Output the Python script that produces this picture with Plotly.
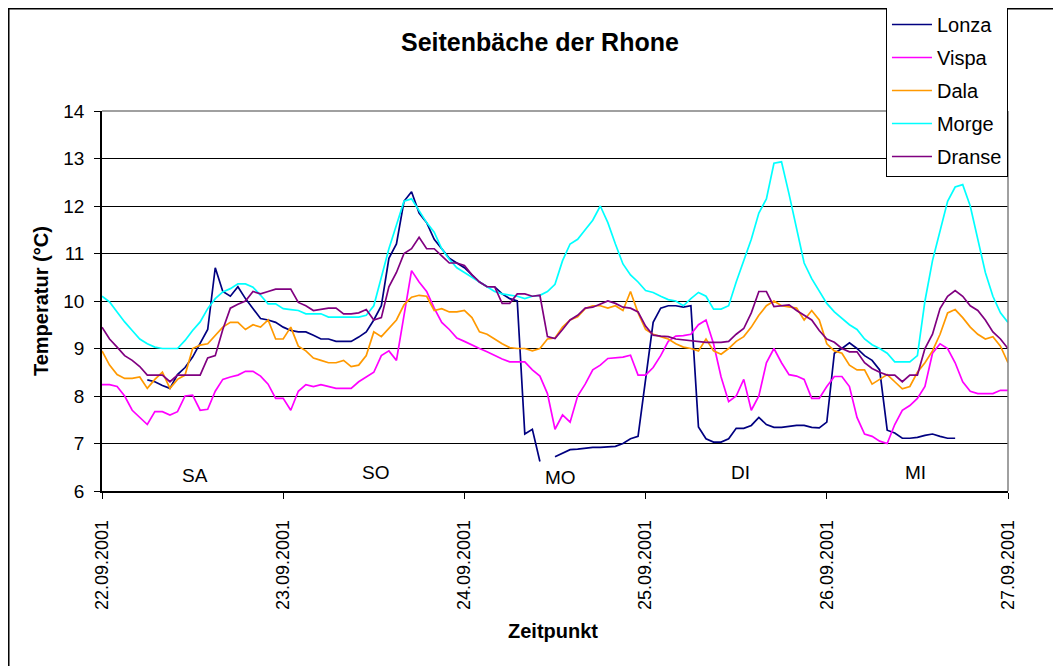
import pandas as pd
import plotly.graph_objects as go

# hourly readings, 22.09.2001 00:00 .. 27.09.2001 00:00
zeit = pd.date_range("2001-09-22 00:00", periods=121, freq="h")

lonza = [None, None, None, None, None, None,
         8.34, 8.3, 8.22, 8.16, 8.45, 8.6, 8.82, 9.1, 9.4, 10.7, 10.2, 10.1, 10.3, 10.05,
         9.85, 9.63, 9.6, 9.55, 9.45, 9.38, 9.35, 9.35, 9.28, 9.2, 9.2,
         9.15, 9.15, 9.15, 9.24, 9.35, 9.6, 9.9, 10.9, 11.2, 12.1, 12.3, 11.85, 11.65, 11.3,
         11.1, 10.9, 10.8, 10.7, 10.55, 10.4, 10.3, 10.3, 10.15, 10.05, 10.0, 7.2, 7.3, 6.62, None,
         6.72, 6.8, 6.87, 6.88, 6.9, 6.92, 6.92, 6.93, 6.94, 7.0, 7.1, 7.15, 8.3, 9.55, 9.85,
         9.9, 9.9, 9.87, 9.9, 7.35, 7.1, 7.03, 7.03, 7.1, 7.32, 7.32, 7.38, 7.55, 7.4, 7.34, 7.34,
         7.36, 7.38, 7.38, 7.34, 7.33, 7.45, 8.9, 9.0, 9.12, 9.0, 8.85, 8.75, 8.55, 7.28, 7.22,
         7.11, 7.11, 7.13, 7.17, 7.2, 7.15, 7.11, 7.11,
         None, None, None, None, None, None, None]

vispa = [8.24, 8.24, 8.2, 8.0, 7.7, 7.55, 7.4, 7.67, 7.67, 7.6, 7.67, 8.0, 8.02, 7.7, 7.72,
         8.1, 8.35, 8.4, 8.44, 8.52, 8.52, 8.42, 8.25, 7.95, 7.95, 7.7, 8.1, 8.24, 8.2, 8.24, 8.2,
         8.16, 8.16, 8.16, 8.3, 8.4, 8.5, 8.85, 8.95, 8.75, 9.7, 10.64, 10.4, 10.2, 9.85, 9.55,
         9.4, 9.22, 9.15, 9.07, 9.0, 8.93, 8.85, 8.78, 8.72, 8.72, 8.72, 8.55, 8.42, 8.05,
         7.3, 7.6, 7.45, 8.0, 8.25, 8.55, 8.65, 8.79, 8.8, 8.82, 8.86, 8.44, 8.44, 8.6, 8.85,
         9.15, 9.26, 9.27, 9.3, 9.5, 9.6, 9.1, 8.4, 7.88, 8.0, 8.35, 7.7, 8.0, 8.7, 9.0, 8.7,
         8.45, 8.42, 8.35, 7.95, 7.95, 8.2, 8.41, 8.41, 8.2, 7.55, 7.2, 7.15, 7.05, 7.0, 7.4,
         7.7, 7.8, 7.95, 8.2, 8.9, 9.1, 9.0, 8.7, 8.3, 8.1, 8.05, 8.05, 8.05, 8.12, 8.12]

dala = [8.95, 8.65, 8.45, 8.37, 8.37, 8.4, 8.16, 8.35, 8.5, 8.16, 8.35, 8.44, 9.0, 9.07, 9.1,
        9.28, 9.45, 9.55, 9.55, 9.4, 9.5, 9.45, 9.6, 9.2, 9.2, 9.45, 9.05, 8.95, 8.8, 8.75, 8.7,
        8.7, 8.75, 8.62, 8.65, 8.85, 9.35, 9.25, 9.42, 9.6, 9.92, 10.08, 10.12, 10.1, 9.8, 9.84,
        9.77, 9.77, 9.8, 9.65, 9.35, 9.3, 9.2, 9.1, 9.02, 9.0, 9.0, 8.95, 9.0, 9.2, 9.22,
        9.45, 9.6, 9.67, 9.84, 9.9, 9.9, 9.85, 9.9, 9.8, 10.2, 9.75, 9.4, 9.3, 9.25, 9.2,
        9.1, 9.03, 9.0, 8.95, 9.2, 8.95, 8.88, 9.0, 9.15, 9.25, 9.45, 9.7, 9.9, 10.0, 9.9,
        9.88, 9.85, 9.6, 9.8, 9.6, 9.1, 8.95, 8.9, 8.65, 8.55, 8.55, 8.25, 8.35, 8.45, 8.3,
        8.15, 8.2, 8.5, 8.7, 8.95, 9.3, 9.75, 9.82, 9.65, 9.45, 9.3, 9.2, 9.25, 9.05, 8.7]

morge = [10.1, 9.98, 9.77, 9.56, 9.38, 9.2, 9.1, 9.03, 9.0, 9.0, 9.0, 9.17, 9.38, 9.56, 9.84,
         10.05, 10.19, 10.26, 10.36, 10.36, 10.29, 10.12, 9.94, 9.94, 9.84, 9.82, 9.8, 9.73,
         9.73, 9.73, 9.66,
         9.66, 9.66, 9.66, 9.66, 9.7, 9.9, 10.5, 11.1, 11.6, 12.1, 12.15, 11.9, 11.65, 11.45,
         11.1, 10.88, 10.7, 10.6, 10.5, 10.4, 10.3, 10.2, 10.15, 10.12, 10.1, 10.05, 10.1,
         10.12, 10.2, 10.35,
         10.85, 11.2, 11.3, 11.5, 11.7, 12.0, 11.65, 11.2, 10.78, 10.55, 10.4, 10.22, 10.18,
         10.1, 10.03, 10.0, 9.9, 10.05, 10.18, 10.1, 9.83, 9.83, 9.9, 10.4, 10.85, 11.3, 11.85,
         12.15, 12.9, 12.93,
         12.25, 11.5, 10.8, 10.47, 10.2, 9.95, 9.77, 9.63, 9.5, 9.4, 9.2, 9.08, 9.0, 8.9, 8.72,
         8.72, 8.72, 8.85, 10.0, 10.85, 11.5, 12.1, 12.4, 12.45, 12.0, 11.3, 10.6, 10.1, 9.75,
         9.55]

dranse = [9.45, 9.2, 9.03, 8.85, 8.75, 8.62, 8.44, 8.44, 8.44, 8.3, 8.44, 8.44, 8.44, 8.44,
          8.8, 8.85, 9.4, 9.85, 9.93, 10.0, 10.2, 10.15, 10.2, 10.25, 10.25, 10.25, 9.97, 9.9,
          9.8, 9.82, 9.85,
          9.85, 9.73, 9.73, 9.75, 9.82, 9.6, 9.65, 10.3, 10.6, 11.0, 11.1, 11.34, 11.1, 11.1,
          10.95, 10.8, 10.8, 10.75, 10.55, 10.4, 10.3, 10.3, 9.95, 9.95, 10.15, 10.15, 10.1,
          10.12, 9.25, 9.21,
          9.4, 9.6, 9.7, 9.85, 9.87, 9.93, 10.0, 9.95, 9.87, 9.85, 9.77, 9.47, 9.28, 9.26, 9.25,
          9.2, 9.18, 9.16, 9.14, 9.13, 9.13, 9.13, 9.15, 9.3, 9.42, 9.75, 10.2, 10.2, 9.88, 9.9,
          9.92, 9.8, 9.7, 9.6, 9.38, 9.2, 9.13, 9.0, 8.93, 8.93, 8.7, 8.58, 8.5, 8.44, 8.44,
          8.3, 8.44, 8.44, 9.0, 9.3, 9.84, 10.1, 10.22, 10.1, 9.9, 9.8, 9.6, 9.35, 9.2, 9.0]

namen = ["Lonza", "Vispa", "Dala", "Morge", "Dranse"]
farben = ["#000080", "#FF00FF", "#FF9900", "#00FFFF", "#800080"]
reihen = [lonza, vispa, dala, morge, dranse]

tage = ["SA", "SO", "MO", "DI", "MI"]
tag_zeit = ["2001-09-22 12:18", "2001-09-23 12:12", "2001-09-24 12:42",
            "2001-09-25 12:36", "2001-09-26 11:42"]
tag_y = [6.32, 6.38, 6.29, 6.4, 6.4]

FONT = "Arial, Liberation Sans, sans-serif"

fig = go.Figure()
for name, col, vals in zip(namen, farben, reihen):
    fig.add_trace(go.Scatter(x=zeit, y=vals, name=name, mode="lines",
                             line=dict(color=col, width=1.7), connectgaps=False,
                             legendgroup=name))

for t, x, y in zip(tage, tag_zeit, tag_y):
    fig.add_annotation(x=x, y=y, text=t, showarrow=False,
                       font=dict(family=FONT, size=19, color="black"))

# axis titles
fig.add_annotation(text="<b>Temperatur (°C)</b>", xref="paper", yref="paper",
                   x=-0.0673, y=0.5, xanchor="center", yanchor="middle",
                   textangle=-90, showarrow=False,
                   font=dict(family=FONT, size=20, color="black"))
fig.add_annotation(text="<b>Zeitpunkt</b>", xref="paper", yref="paper",
                   x=0.4978, y=-0.368, xanchor="center", yanchor="middle",
                   showarrow=False,
                   font=dict(family=FONT, size=20, color="black"))

# outer chart frame and gray plot-area border (top/right)
fig.add_shape(type="rect", xref="paper", yref="paper", x0=-0.1029, y0=-0.7,
              x1=1.2, y1=1.269, line=dict(color="black", width=1.5), layer="above")
fig.add_shape(type="line", xref="paper", yref="paper", x0=0, x1=1, y0=1, y1=1,
              line=dict(color="#808080", width=1.5), layer="above")
fig.add_shape(type="line", xref="paper", yref="paper", x0=1, x1=1, y0=0, y1=1,
              line=dict(color="#808080", width=1.5), layer="above")

# page body adds an 8px margin, so the figure is sized/shifted to compensate
fig.update_layout(
    width=1053, height=658,
    margin=dict(l=94, r=53, t=103, b=175, autoexpand=False),
    paper_bgcolor="white", plot_bgcolor="white",
    font=dict(family=FONT, color="black"),
    title=dict(text="<b>Seitenbäche der Rhone</b>", x=0.4834, xref="paper",
               xanchor="center", y=1 - 34 / 658, yanchor="middle",
               font=dict(family=FONT, size=25, color="black")),
    legend=dict(x=0.8653, y=1.2816, xanchor="left", yanchor="top",
                bgcolor="white", bordercolor="black", borderwidth=1,
                font=dict(family=FONT, size=20, color="black"),
                itemwidth=40, tracegroupgap=4),
    showlegend=True,
)

fig.update_xaxes(range=["2001-09-22 00:00", "2001-09-27 00:00"],
                 tick0="2001-09-22", dtick=86400000, tickformat="%d.%m.%Y",
                 tickangle=-90, ticks="outside", ticklen=6, tickcolor="black",
                 showgrid=False, showline=True, linecolor="black", linewidth=1.5,
                 tickfont=dict(family=FONT, size=18, color="black"),
                 ticklabelstandoff=14, zeroline=False, automargin=False)
fig.update_yaxes(range=[6, 14], dtick=1, ticks="outside", ticklen=6, tickcolor="black",
                 showgrid=True, gridcolor="black", gridwidth=1,
                 showline=True, linecolor="black", linewidth=1.5,
                 tickfont=dict(family=FONT, size=19, color="black"),
                 ticklabelstandoff=6, zeroline=False, automargin=False)

fig.write_html("out.html")
